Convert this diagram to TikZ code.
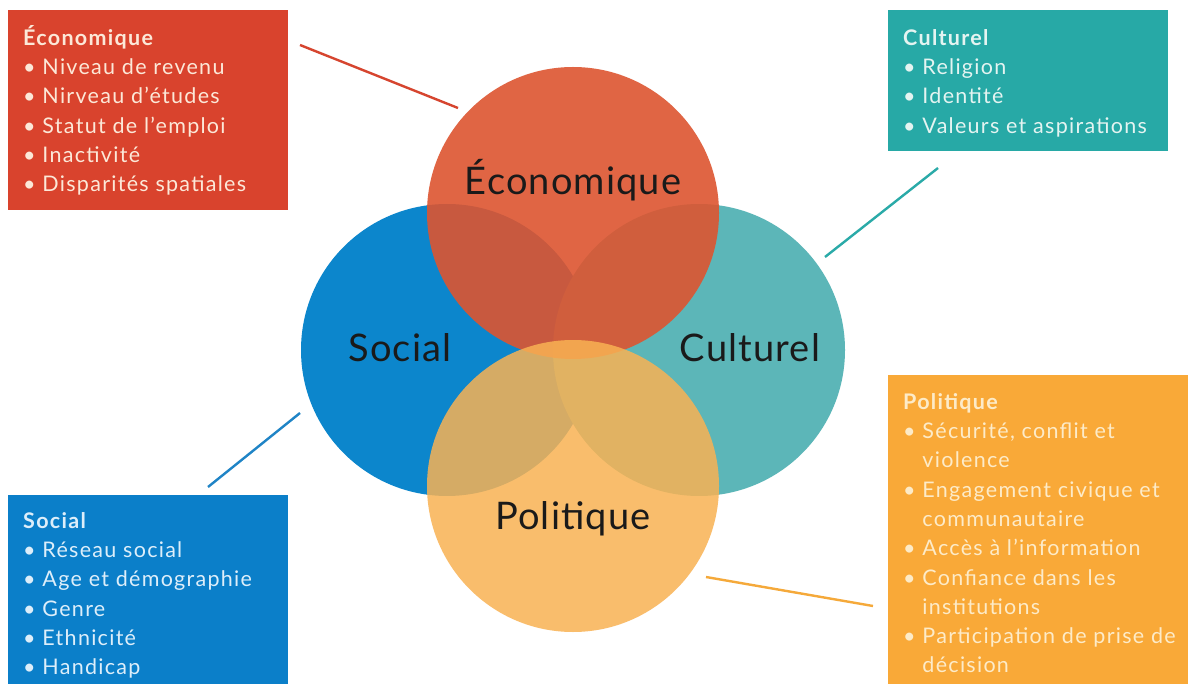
\documentclass[tikz,border=0pt]{standalone}
\usepackage{fontspec}
\setmainfont{Lato}
\newfontfamily\boxfont{Lato}[LetterSpace=6]
\newfontfamily\ringfont{Lato}[LetterSpace=3]
\definecolor{ecoC}{HTML}{DD5530}
\definecolor{socC}{HTML}{0C86CC}
\definecolor{culC}{HTML}{5CB6B8}
\definecolor{polC}{HTML}{F9B253}
\definecolor{ecoBox}{HTML}{D9432D}
\definecolor{culBox}{HTML}{27A9A6}
\definecolor{socBox}{HTML}{0B7FC9}
\definecolor{polBox}{HTML}{F9A938}
\definecolor{ecoTxt}{HTML}{FCE8D8}
\definecolor{culTxt}{HTML}{E4F4F1}
\definecolor{socTxt}{HTML}{DDEEFA}
\definecolor{polTxt}{HTML}{FDEBC8}
\definecolor{ecoLine}{HTML}{D6452F}
\definecolor{culLine}{HTML}{2AAAA8}
\definecolor{socLine}{HTML}{1F84C6}
\definecolor{polLine}{HTML}{F5A93A}
\definecolor{lbl}{HTML}{1A1A1A}
\begin{document}
\begin{tikzpicture}[x=1pt,y=-1pt,
  ring/.style={circle,minimum size=292pt,inner sep=0pt,draw=none},
  infobox/.style={rectangle,anchor=north west,inner sep=0pt,draw=none},
  infotext/.style={anchor=north west,inner sep=0pt,align=left,
    font=\boxfont\fontsize{21.5}{29.3}\selectfont},
  ringlabel/.style={anchor=base,inner sep=0pt,text=lbl,
    font=\ringfont\fontsize{38}{40}\selectfont},
  link/.style={line width=2.4pt}]
\useasboundingbox (0,0) rectangle (1188,684);
\fill[white] (0,0) rectangle (1188,684);

% circles
\node[ring,fill=socC] (soc) at (447,350) {};
\node[ring,fill=culC] (cul) at (699,350) {};
\node[ring,fill=ecoC,fill opacity=0.9] (eco) at (573,213) {};
\node[ring,fill=polC,fill opacity=0.85] (pol) at (573,486) {};

% circle labels
\node[ringlabel] (ecoL) at (573,195) {Économique};
\node[ringlabel] (socL) at (400,362) {Social};
\node[ringlabel] (culL) at (750,362) {Culturel};
\node[ringlabel] (polL) at (573,529) {Politique};

% boxes
\node[infobox,fill=ecoBox,minimum width=280pt,minimum height=200pt] (ecoB) at (8,10) {};
\node[infobox,fill=culBox,minimum width=280pt,minimum height=141pt] (culB) at (888,10) {};
\node[infobox,fill=socBox,minimum width=280pt,minimum height=195pt] (socB) at (8,495) {};
\node[infobox,fill=polBox,minimum width=305pt,minimum height=315pt] (polB) at (888,375) {};

% box texts
\node[infotext,text=ecoTxt] (ecoT) at (23,23) {\rule{0pt}{22pt}\textbf{Économique}\\
• Niveau de revenu\\
• Nirveau d’études\\
• Statut de l’emploi\\
• Inactivité\\
• Disparités spatiales};
\node[infotext,text=culTxt] (culT) at (903,23) {\rule{0pt}{22pt}\textbf{Culturel}\\
• Religion\\
• Identité\\
• Valeurs et aspirations};
\node[infotext,text=socTxt] (socT) at (23,506) {\rule{0pt}{22pt}\textbf{Social}\\
• Réseau social\\
• Age et démographie\\
• Genre\\
• Ethnicité\\
• Handicap};
\node[infotext,text=polTxt] (polT) at (903,387) {\rule{0pt}{22pt}\textbf{Politique}\\
• Sécurité, conflit et\\
\phantom{• }violence\\
• Engagement civique et\\
\phantom{• }communautaire\\
• Accès à l’information\\
• Confiance dans les\\
\phantom{• }institutions\\
• Participation de prise de\\
\phantom{• }décision};

% connectors
\coordinate (ecoA) at (300,45);
\coordinate (ecoZ) at (458,108);
\coordinate (culA) at (938,168);
\coordinate (culZ) at (825,257);
\coordinate (socA) at (208,487);
\coordinate (socZ) at (300,413);
\coordinate (polA) at (706,577);
\coordinate (polZ) at (873,606);
\draw[link,ecoLine] (ecoA) -- (ecoZ);
\draw[link,culLine] (culA) -- (culZ);
\draw[link,socLine] (socA) -- (socZ);
\draw[link,polLine] (polA) -- (polZ);
\end{tikzpicture}
\end{document}
